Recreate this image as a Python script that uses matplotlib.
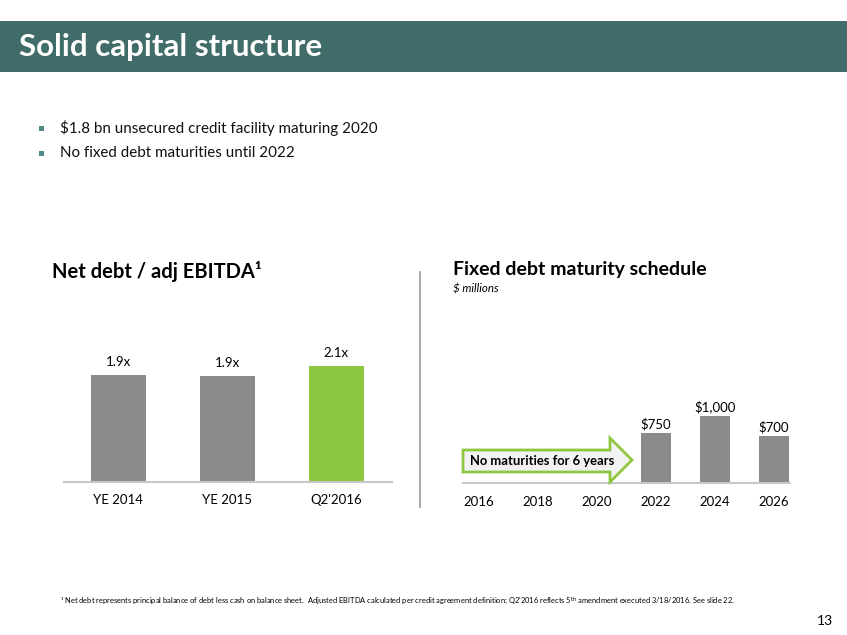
import matplotlib
matplotlib.use("Agg")
import matplotlib.pyplot as plt
from matplotlib.patches import Rectangle, Polygon
from matplotlib.lines import Line2D

plt.rcParams['font.family'] = ['Lato', 'DejaVu Sans']

W, H = 847, 635

# data
ratio_labels = ["YE 2014", "YE 2015", "Q2'2016"]
ratio_values = [1.91, 1.89, 2.07]
ratio_text = ["1.9x", "1.9x", "2.1x"]
ratio_colors = ["#8b8b8e", "#8b8b8e", "#8dc63f"]

years = [2016, 2018, 2020, 2022, 2024, 2026]
mat_years = [2022, 2024, 2026]
mat_values = [750, 1000, 700]

bullets = ["$1.8 bn unsecured credit facility maturing 2020",
           "No fixed debt maturities until 2022"]


def fx(x):
    return x / W


def fy(y):
    return 1 - y / H


fig = plt.figure(figsize=(W / 100, H / 100), dpi=100)

# header band
fig.add_artist(Rectangle((0, fy(72)), 1, (72 - 21) / H, transform=fig.transFigure,
                         color="#406c69", lw=0))
fig.text(fx(19), fy(47), "Solid capital structure", color="white", fontsize=22.5,
         fontweight="bold", va="center", ha="left")

# bullets
for i, b in enumerate(bullets):
    y = 128 + i * 25
    fig.add_artist(Rectangle((fx(39), fy(y + 3)), 5 / W, 5 / H, transform=fig.transFigure,
                             color="#4f8a85", lw=0))
    fig.text(fx(60), fy(y), b, fontsize=10.9, va="center", ha="left", color="#111111")

# left chart
ax1 = fig.add_axes([fx(64), fy(482), (392 - 64) / W, (482 - 300) / H])
x1 = range(len(ratio_labels))
bars = ax1.bar(x1, ratio_values, width=0.5, color=ratio_colors)
for r, t in zip(bars, ratio_text):
    ax1.text(r.get_x() + r.get_width() / 2, r.get_height() + 0.12, t,
             ha="center", va="bottom", fontsize=9.5)
ax1.set_xlim(-0.5, 2.51)
ax1.set_ylim(0, 182 / 56)
ax1.set_xticks(list(x1))
ax1.set_xticklabels(ratio_labels, fontsize=9.5)
ax1.tick_params(axis="x", length=0, pad=9)
ax1.set_yticks([])
for s in ["top", "right", "left"]:
    ax1.spines[s].set_visible(False)
ax1.spines["bottom"].set_color("#c8c8c8")
ax1.spines["bottom"].set_linewidth(1.5)
ax1.patch.set_alpha(0)
fig.text(fx(52), fy(272), "Net debt / adj EBITDA¹", fontsize=14.5, fontweight="bold",
         va="center", ha="left")

# divider
fig.add_artist(Line2D([fx(420), fx(420)], [fy(272), fy(507)], transform=fig.transFigure,
                      color="#9a9a9a", lw=1.2))

# right chart
ax2 = fig.add_axes([fx(463), fy(483), (790 - 463) / W, (483 - 300) / H])
bars2 = ax2.bar(mat_years, mat_values, width=1.0, color="#8b8b8e")
for r, v in zip(bars2, mat_values):
    ax2.text(r.get_x() + r.get_width() / 2, r.get_height() + 40, "${:,}".format(v),
             ha="center", va="bottom", fontsize=9.5)
ax2.set_xlim(2016 - 16 / 29.5, 2026 + 16 / 29.5)
ax2.set_ylim(0, 183 / 0.067)
ax2.set_xticks(years)
ax2.set_xticklabels([str(y) for y in years], fontsize=9.5)
ax2.tick_params(axis="x", length=0, pad=9)
ax2.set_yticks([])
for s in ["top", "right", "left"]:
    ax2.spines[s].set_visible(False)
ax2.spines["bottom"].set_color("#c8c8c8")
ax2.spines["bottom"].set_linewidth(1.5)
ax2.patch.set_alpha(0)
fig.text(fx(453), fy(270), "Fixed debt maturity schedule", fontsize=14, fontweight="bold",
         va="center", ha="left")
fig.text(fx(453), fy(289), "$ millions", fontsize=8.3, style="italic", va="center", ha="left")

# arrow callout
pts = [(463, 450), (610, 450), (610, 438), (632, 460), (610, 482), (610, 472), (463, 472)]
fig.add_artist(Polygon([(fx(x), fy(y)) for x, y in pts], closed=True, transform=fig.transFigure,
                       facecolor="#f2f2f2", edgecolor="#8dc63f", lw=2, zorder=5))
fig.text(fx(470), fy(461), "No maturities for 6 years", fontsize=9.4, fontweight="bold",
         va="center", ha="left", zorder=6)

# footnote
fig.text(fx(60), fy(601),
         "¹ Net debt represents principal balance of debt less cash on balance sheet.  "
         "Adjusted EBITDA calculated per credit agreement definition; Q2'2016 reflects "
         "5$^{\\rm th}$ amendment executed 3/18/2016. See slide 22.",
         fontsize=5.4, va="center", ha="left")
fig.text(fx(833), fy(621), "13", fontsize=10, va="center", ha="right")

fig.savefig("out.png", dpi=100)
